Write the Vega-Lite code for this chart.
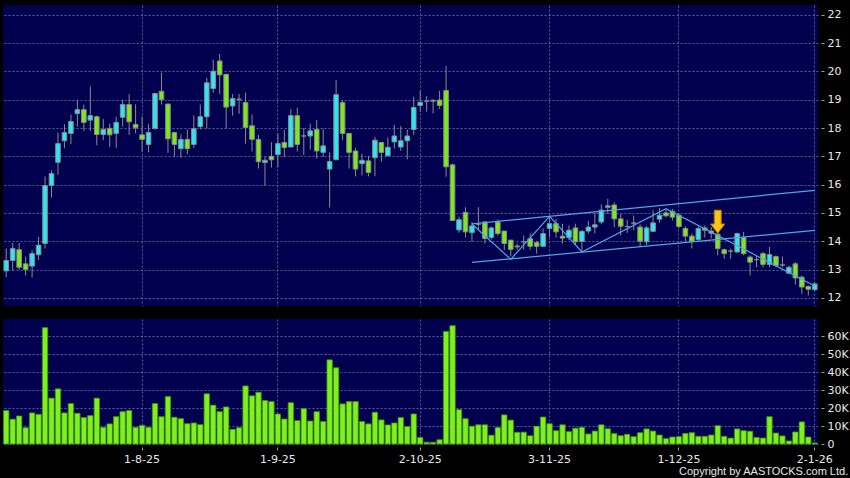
{
"$schema": "https://vega.github.io/schema/vega-lite/v6.json",
"background": "#000000",
"padding": {"left": 3, "top": 5, "right": 3, "bottom": 2},
"config": {
  "view": {"fill": "#00004f", "stroke": null},
  "axis": {"labelFont": "DejaVu Sans", "labelFontSize": 11, "labelColor": "#e8e8e8", "gridColor": "#5c5c98", "gridDash": [2, 2], "gridWidth": 1, "tickColor": "#a0a0a0", "domain": false, "labelOverlap": false, "labelBound": false}
},
"datasets": {
"px": [
{"d":"2025-07-03","o":12.95,"h":13.74,"l":12.73,"c":13.32,"v":18600},
{"d":"2025-07-04","o":13.32,"h":13.94,"l":12.96,"c":13.74,"v":13800},
{"d":"2025-07-07","o":13.70,"h":13.94,"l":12.99,"c":13.08,"v":15600},
{"d":"2025-07-08","o":13.20,"h":13.46,"l":12.79,"c":13.00,"v":9100},
{"d":"2025-07-09","o":13.12,"h":13.68,"l":12.72,"c":13.56,"v":17300},
{"d":"2025-07-10","o":13.52,"h":14.15,"l":13.34,"c":13.86,"v":16500},
{"d":"2025-07-11","o":13.92,"h":16.29,"l":13.74,"c":15.97,"v":64700},
{"d":"2025-07-14","o":15.97,"h":16.51,"l":15.55,"c":16.39,"v":25500},
{"d":"2025-07-15","o":16.79,"h":17.84,"l":16.35,"c":17.45,"v":30700},
{"d":"2025-07-16","o":17.55,"h":18.14,"l":17.29,"c":17.84,"v":17300},
{"d":"2025-07-17","o":17.81,"h":18.48,"l":17.43,"c":18.23,"v":22500},
{"d":"2025-07-18","o":18.51,"h":19.00,"l":18.05,"c":18.65,"v":17100},
{"d":"2025-07-21","o":18.65,"h":18.83,"l":17.90,"c":18.20,"v":14700},
{"d":"2025-07-22","o":18.28,"h":19.47,"l":17.90,"c":18.44,"v":15800},
{"d":"2025-07-23","o":18.40,"h":18.44,"l":17.39,"c":17.77,"v":25500},
{"d":"2025-07-24","o":17.77,"h":18.32,"l":17.57,"c":17.95,"v":9300},
{"d":"2025-07-25","o":17.99,"h":18.16,"l":17.33,"c":17.76,"v":11200},
{"d":"2025-07-28","o":17.81,"h":18.40,"l":17.30,"c":18.20,"v":15200},
{"d":"2025-07-29","o":18.38,"h":19.00,"l":18.05,"c":18.83,"v":18000},
{"d":"2025-07-30","o":18.83,"h":19.20,"l":17.76,"c":18.22,"v":18600},
{"d":"2025-07-31","o":18.13,"h":18.84,"l":17.81,"c":18.01,"v":9300},
{"d":"2025-08-01","o":17.76,"h":18.40,"l":17.17,"c":17.60,"v":10400},
{"d":"2025-08-04","o":17.42,"h":18.14,"l":17.14,"c":17.84,"v":9300},
{"d":"2025-08-05","o":17.98,"h":19.25,"l":17.95,"c":19.22,"v":22500},
{"d":"2025-08-06","o":19.30,"h":19.96,"l":18.83,"c":19.00,"v":15200},
{"d":"2025-08-07","o":18.85,"h":18.85,"l":17.12,"c":17.62,"v":26400},
{"d":"2025-08-08","o":17.84,"h":17.84,"l":16.98,"c":17.42,"v":14900},
{"d":"2025-08-11","o":17.27,"h":17.78,"l":16.95,"c":17.60,"v":14100},
{"d":"2025-08-12","o":17.60,"h":17.95,"l":17.07,"c":17.27,"v":11300},
{"d":"2025-08-13","o":17.42,"h":18.45,"l":17.30,"c":17.98,"v":11700},
{"d":"2025-08-14","o":18.05,"h":18.83,"l":17.95,"c":18.40,"v":10800},
{"d":"2025-08-15","o":18.40,"h":19.78,"l":17.98,"c":19.60,"v":27900},
{"d":"2025-08-18","o":19.40,"h":20.42,"l":19.25,"c":20.01,"v":21600},
{"d":"2025-08-19","o":20.37,"h":20.62,"l":19.20,"c":19.88,"v":18000},
{"d":"2025-08-20","o":19.90,"h":19.90,"l":17.98,"c":18.74,"v":20600},
{"d":"2025-08-21","o":18.78,"h":19.20,"l":18.44,"c":19.04,"v":8200},
{"d":"2025-08-22","o":19.02,"h":19.20,"l":18.50,"c":19.02,"v":9100},
{"d":"2025-08-25","o":18.90,"h":19.25,"l":17.45,"c":18.02,"v":32300},
{"d":"2025-08-26","o":18.08,"h":18.48,"l":17.17,"c":17.60,"v":26800},
{"d":"2025-08-27","o":17.60,"h":17.76,"l":16.57,"c":16.81,"v":28800},
{"d":"2025-08-28","o":16.78,"h":16.98,"l":15.97,"c":16.86,"v":24200},
{"d":"2025-08-29","o":17.00,"h":17.50,"l":16.60,"c":16.88,"v":23600},
{"d":"2025-09-01","o":17.06,"h":17.81,"l":16.62,"c":17.45,"v":16700},
{"d":"2025-09-02","o":17.49,"h":17.93,"l":16.98,"c":17.31,"v":13900},
{"d":"2025-09-03","o":17.33,"h":18.67,"l":17.33,"c":18.44,"v":23000},
{"d":"2025-09-04","o":18.44,"h":18.72,"l":17.17,"c":17.42,"v":13000},
{"d":"2025-09-05","o":17.72,"h":18.01,"l":17.04,"c":17.72,"v":19700},
{"d":"2025-09-08","o":17.72,"h":18.16,"l":17.24,"c":17.90,"v":12800},
{"d":"2025-09-09","o":17.95,"h":18.28,"l":16.92,"c":17.19,"v":18000},
{"d":"2025-09-10","o":17.14,"h":17.98,"l":16.98,"c":17.37,"v":12500},
{"d":"2025-09-11","o":16.55,"h":17.14,"l":15.19,"c":16.82,"v":46800},
{"d":"2025-09-12","o":16.88,"h":19.70,"l":16.88,"c":19.18,"v":42400},
{"d":"2025-09-15","o":18.90,"h":18.99,"l":17.57,"c":17.81,"v":22300},
{"d":"2025-09-16","o":17.81,"h":17.81,"l":16.57,"c":17.14,"v":23600},
{"d":"2025-09-17","o":17.19,"h":17.29,"l":16.29,"c":16.55,"v":23600},
{"d":"2025-09-18","o":16.74,"h":17.10,"l":16.33,"c":16.86,"v":12500},
{"d":"2025-09-19","o":16.84,"h":17.01,"l":16.29,"c":16.43,"v":11200},
{"d":"2025-09-22","o":16.95,"h":17.69,"l":16.30,"c":17.57,"v":17700},
{"d":"2025-09-23","o":17.49,"h":17.49,"l":16.81,"c":17.14,"v":13400},
{"d":"2025-09-24","o":17.02,"h":17.67,"l":17.02,"c":17.32,"v":10600},
{"d":"2025-09-25","o":17.51,"h":18.11,"l":17.27,"c":17.72,"v":11700},
{"d":"2025-09-26","o":17.33,"h":18.07,"l":17.19,"c":17.55,"v":14700},
{"d":"2025-09-29","o":17.55,"h":17.95,"l":16.89,"c":17.72,"v":9700},
{"d":"2025-09-30","o":17.95,"h":19.11,"l":17.76,"c":18.73,"v":16700},
{"d":"2025-10-02","o":18.80,"h":19.32,"l":18.58,"c":18.91,"v":3600},
{"d":"2025-10-03","o":18.95,"h":19.13,"l":18.58,"c":18.95,"v":1000},
{"d":"2025-10-06","o":18.95,"h":19.02,"l":18.52,"c":18.98,"v":1000},
{"d":"2025-10-08","o":18.99,"h":19.32,"l":18.67,"c":18.80,"v":2400},
{"d":"2025-10-09","o":19.33,"h":20.19,"l":16.28,"c":16.63,"v":62600},
{"d":"2025-10-10","o":16.70,"h":16.74,"l":14.73,"c":14.73,"v":65800},
{"d":"2025-10-13","o":14.40,"h":14.87,"l":14.30,"c":14.76,"v":19100},
{"d":"2025-10-14","o":15.02,"h":15.20,"l":14.13,"c":14.33,"v":14100},
{"d":"2025-10-15","o":14.30,"h":14.68,"l":13.98,"c":14.54,"v":9900},
{"d":"2025-10-16","o":14.60,"h":15.20,"l":14.39,"c":14.60,"v":10700},
{"d":"2025-10-17","o":14.68,"h":14.72,"l":13.92,"c":14.10,"v":10700},
{"d":"2025-10-20","o":14.13,"h":14.52,"l":14.06,"c":14.47,"v":4900},
{"d":"2025-10-21","o":14.68,"h":14.76,"l":14.20,"c":14.27,"v":9200},
{"d":"2025-10-22","o":14.36,"h":14.36,"l":13.68,"c":13.92,"v":16200},
{"d":"2025-10-23","o":14.04,"h":14.04,"l":13.46,"c":13.71,"v":13300},
{"d":"2025-10-24","o":13.83,"h":13.92,"l":13.70,"c":13.80,"v":6500},
{"d":"2025-10-27","o":13.98,"h":14.20,"l":13.70,"c":13.98,"v":6600},
{"d":"2025-10-28","o":14.09,"h":14.27,"l":13.70,"c":13.82,"v":4600},
{"d":"2025-10-30","o":13.95,"h":14.01,"l":13.56,"c":13.82,"v":9900},
{"d":"2025-10-31","o":13.82,"h":14.45,"l":13.80,"c":14.27,"v":15000},
{"d":"2025-11-03","o":14.45,"h":14.85,"l":14.15,"c":14.62,"v":11300},
{"d":"2025-11-04","o":14.62,"h":14.79,"l":14.13,"c":14.33,"v":7400},
{"d":"2025-11-05","o":14.18,"h":14.62,"l":13.92,"c":14.11,"v":10700},
{"d":"2025-11-06","o":14.13,"h":14.56,"l":14.04,"c":14.39,"v":6900},
{"d":"2025-11-07","o":14.47,"h":14.62,"l":13.86,"c":13.98,"v":8800},
{"d":"2025-11-10","o":13.99,"h":14.39,"l":13.62,"c":14.35,"v":9300},
{"d":"2025-11-11","o":14.36,"h":14.72,"l":14.27,"c":14.50,"v":5600},
{"d":"2025-11-12","o":14.50,"h":15.00,"l":14.27,"c":14.58,"v":7200},
{"d":"2025-11-13","o":14.68,"h":15.30,"l":14.60,"c":15.10,"v":10700},
{"d":"2025-11-14","o":15.20,"h":15.50,"l":14.96,"c":15.25,"v":8500},
{"d":"2025-11-17","o":15.28,"h":15.38,"l":14.50,"c":14.79,"v":5800},
{"d":"2025-11-18","o":14.79,"h":14.96,"l":14.20,"c":14.53,"v":4600},
{"d":"2025-11-19","o":14.52,"h":14.76,"l":14.29,"c":14.52,"v":5400},
{"d":"2025-11-20","o":14.64,"h":14.91,"l":14.39,"c":14.64,"v":4100},
{"d":"2025-11-21","o":14.50,"h":14.60,"l":13.82,"c":14.00,"v":6300},
{"d":"2025-11-24","o":13.98,"h":14.54,"l":13.86,"c":14.47,"v":8400},
{"d":"2025-11-25","o":14.35,"h":15.10,"l":14.33,"c":14.65,"v":7200},
{"d":"2025-11-26","o":14.78,"h":15.18,"l":14.65,"c":14.92,"v":5000},
{"d":"2025-11-27","o":15.00,"h":15.14,"l":14.85,"c":14.90,"v":3000},
{"d":"2025-11-28","o":15.06,"h":15.14,"l":14.73,"c":14.85,"v":3900},
{"d":"2025-12-01","o":14.92,"h":15.00,"l":14.45,"c":14.52,"v":4100},
{"d":"2025-12-02","o":14.45,"h":14.53,"l":14.01,"c":14.18,"v":5900},
{"d":"2025-12-03","o":14.18,"h":14.27,"l":13.74,"c":14.00,"v":6300},
{"d":"2025-12-04","o":14.06,"h":14.53,"l":14.01,"c":14.45,"v":4300},
{"d":"2025-12-05","o":14.47,"h":14.56,"l":14.13,"c":14.39,"v":4300},
{"d":"2025-12-08","o":14.36,"h":14.50,"l":14.10,"c":14.28,"v":5000},
{"d":"2025-12-09","o":14.25,"h":14.27,"l":13.50,"c":13.74,"v":10200},
{"d":"2025-12-10","o":13.70,"h":13.74,"l":13.38,"c":13.56,"v":4300},
{"d":"2025-12-11","o":13.65,"h":13.74,"l":13.38,"c":13.65,"v":3300},
{"d":"2025-12-12","o":13.62,"h":14.30,"l":13.58,"c":14.27,"v":8400},
{"d":"2025-12-15","o":14.13,"h":14.33,"l":13.50,"c":13.56,"v":7400},
{"d":"2025-12-16","o":13.44,"h":13.50,"l":12.79,"c":13.26,"v":7100},
{"d":"2025-12-17","o":13.35,"h":13.50,"l":13.08,"c":13.35,"v":3700},
{"d":"2025-12-18","o":13.56,"h":13.62,"l":13.08,"c":13.18,"v":3300},
{"d":"2025-12-19","o":13.18,"h":13.80,"l":13.08,"c":13.53,"v":15200},
{"d":"2025-12-22","o":13.46,"h":13.50,"l":13.08,"c":13.14,"v":6100},
{"d":"2025-12-23","o":13.16,"h":13.46,"l":13.08,"c":13.16,"v":4500},
{"d":"2025-12-24","o":12.87,"h":13.14,"l":12.83,"c":13.08,"v":1700},
{"d":"2025-12-29","o":13.20,"h":13.26,"l":12.47,"c":12.70,"v":6700},
{"d":"2025-12-30","o":12.73,"h":12.79,"l":12.14,"c":12.38,"v":12300},
{"d":"2025-12-31","o":12.40,"h":12.44,"l":12.08,"c":12.30,"v":3900},
{"d":"2026-01-02","o":12.29,"h":12.55,"l":12.24,"c":12.49,"v":600}
],
"trend": [
{"line":"upper","d":"2025-10-15","p":14.61},
{"line":"upper","d":"2026-01-02","p":15.80},
{"line":"lower","d":"2025-10-15","p":13.25},
{"line":"lower","d":"2026-01-02","p":14.38},
{"line":"zigzag","d":"2025-10-15","p":14.61},
{"line":"zigzag","d":"2025-10-23","p":13.36},
{"line":"zigzag","d":"2025-11-03","p":14.88},
{"line":"zigzag","d":"2025-11-10","p":13.62},
{"line":"zigzag","d":"2025-11-27","p":15.15},
{"line":"zigzag","d":"2026-01-02","p":12.42}
],
"marker": [
{"d":"2025-12-09","p":14.69}
]
},
"title": {"text": "Copyright by AASTOCKS.com Ltd.", "orient": "bottom", "anchor": "end", "color": "#e8e8e8", "fontSize": 11, "font": "Liberation Sans", "fontWeight": "normal", "offset": 2},
"spacing": 13,
"vconcat": [
{
  "width": 815,
  "height": 301,
  "data": {"name": "px"},
  "encoding": {
    "x": {"field": "d", "type": "ordinal", "scale": {"paddingInner": 0, "paddingOuter": 0},
      "axis": {"title": null, "values": ["2025-08-01","2025-09-01","2025-10-02","2025-11-03","2025-12-01","2026-01-02"], "labels": false, "ticks": false, "grid": true, "bandPosition": 0.5}}
  },
  "layer": [
    {"mark": {"type": "rule", "color": "#8c8c8c", "strokeWidth": 1},
     "encoding": {
       "y": {"field": "l", "type": "quantitative", "scale": {"domain": [11.71, 22.35], "nice": false, "zero": false},
         "axis": {"title": null, "orient": "right", "values": [12,13,14,15,16,17,18,19,20,21,22], "tickCount": 11, "grid": true, "tickSize": 3, "offset": 3, "labelPadding": 3}},
       "y2": {"field": "h"}
     }},
    {"mark": {"type": "bar", "width": 4.6, "stroke": "#8a8a8a", "strokeWidth": 1},
     "encoding": {
       "y": {"field": "o", "type": "quantitative", "scale": {"domain": [11.71, 22.35], "nice": false, "zero": false},
         "axis": {"title": null, "orient": "right", "values": [12,13,14,15,16,17,18,19,20,21,22], "tickCount": 11, "grid": true, "tickSize": 3, "offset": 3, "labelPadding": 3}},
       "y2": {"field": "c"},
       "color": {"condition": {"test": "datum.c > datum.o", "value": "#2ee6f2"}, "value": "#7ee81e"}
     }},
    {"data": {"name": "trend"},
     "mark": {"type": "line", "color": "#4fa6e6", "strokeWidth": 1.2},
     "encoding": {
       "y": {"field": "p", "type": "quantitative", "scale": {"domain": [11.71, 22.35], "nice": false, "zero": false},
         "axis": {"title": null, "orient": "right", "values": [12,13,14,15,16,17,18,19,20,21,22], "tickCount": 11, "grid": true, "tickSize": 3, "offset": 3, "labelPadding": 3}},
       "detail": {"field": "line", "type": "nominal"}
     }},
    {"data": {"name": "marker"},
     "mark": {"type": "point", "shape": "M-0.3,-1L0.3,-1L0.3,0.2L0.62,0.2L0,1L-0.62,0.2L-0.3,0.2Z", "filled": true, "fill": "#f9c31b", "stroke": "#c07a00", "strokeWidth": 1, "size": 530, "opacity": 1},
     "encoding": {
       "y": {"field": "p", "type": "quantitative", "scale": {"domain": [11.71, 22.35], "nice": false, "zero": false},
         "axis": {"title": null, "orient": "right", "values": [12,13,14,15,16,17,18,19,20,21,22], "tickCount": 11, "grid": true, "tickSize": 3, "offset": 3, "labelPadding": 3}}
     }}
  ]
},
{
  "width": 815,
  "height": 125,
  "data": {"name": "px"},
  "mark": {"type": "bar", "width": 5.4, "fill": "#7ff01f", "stroke": "#3f8f0f", "strokeWidth": 0.8},
  "encoding": {
    "x": {"field": "d", "type": "ordinal", "scale": {"paddingInner": 0, "paddingOuter": 0},
      "axis": {"title": null, "values": ["2025-08-01","2025-09-01","2025-10-02","2025-11-03","2025-12-01","2026-01-02"],
        "labelExpr": "datum.value == '2025-08-01' ? '1-8-25' : datum.value == '2025-09-01' ? '1-9-25' : datum.value == '2025-10-02' ? '2-10-25' : datum.value == '2025-11-03' ? '3-11-25' : datum.value == '2025-12-01' ? '1-12-25' : '2-1-26'",
        "labelAngle": 0, "grid": true, "tickSize": 3, "offset": 3, "labelPadding": 3, "bandPosition": 0.5}},
    "y": {"field": "v", "type": "quantitative", "scale": {"domain": [0, 69500], "nice": false},
      "axis": {"title": null, "orient": "right", "values": [0,10000,20000,30000,40000,50000,60000],
        "labelExpr": "datum.value == 0 ? '0' : (datum.value / 1000) + 'K'", "grid": true, "tickSize": 3, "offset": 3, "labelPadding": 3}}
  }
}
]
}
